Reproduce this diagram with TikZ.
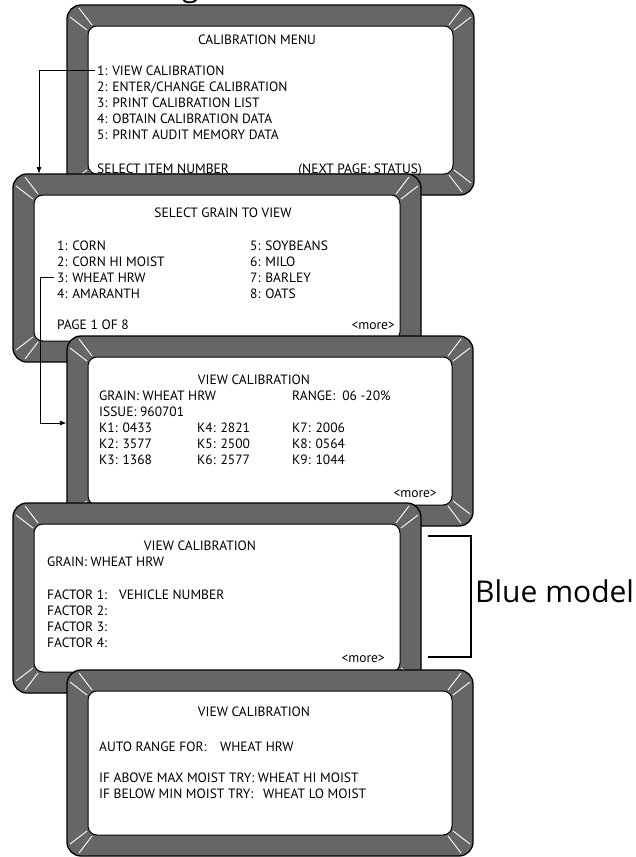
\documentclass[tikz,border=0pt]{standalone}
\usepackage{fontspec}
\setmainfont{PT Sans}
\newfontfamily\bluefont{Open Sans}
\usetikzlibrary{fit,arrows.meta}
\definecolor{framegray}{RGB}{102,102,102}
\tikzset{
  txt/.style={anchor=base west, inner sep=0pt, font=\fontsize{13.5}{16}\selectfont},
  ctxt/.style={txt, anchor=base},
  rtxt/.style={txt, anchor=base east},
  outerframe/.style={fill=framegray, draw=black, line width=1.3pt, rounded corners=14pt},
  innerframe/.style={fill=white, draw=black, line width=1pt, rounded corners=9pt},
  bevel/.style={draw=white, line width=0.9pt},
  arr/.style={draw=black, line width=1pt, -{Latex[length=7pt,width=5pt]}},
  bigtxt/.style={font=\bluefont\fontsize{30}{36}\selectfont, anchor=base west, inner sep=0pt},
  bracketline/.style={draw=black, line width=1.8pt}
}
\newcommand\screenframe[5]{%
  \draw[outerframe] (#2,#3) rectangle (#4,#5);
  \foreach \cx/\cy/\sx/\sy in {#2/#3/1/1,#4/#3/-1/1,#2/#5/1/-1,#4/#5/-1/-1}{
    \draw[bevel] ({\cx+3*(\sx)},{\cy+12*(\sy)}) -- ({\cx+20*(\sx)},{\cy+25*(\sy)});
    \draw[bevel] ({\cx+12*(\sx)},{\cy+3*(\sy)}) -- ({\cx+25*(\sx)},{\cy+20*(\sy)});
  }
  \draw[innerframe] ({#2+21},{#3+21}) rectangle ({#4-21},{#5-21});
  \coordinate (#1nw) at (#2,#3);
  \coordinate (#1se) at (#4,#5);
  \node[fit=(#1nw)(#1se), inner sep=0pt] (#1) {};
}
\begin{document}
\begin{tikzpicture}[x=1pt,y=-1pt]
\useasboundingbox (0,0) rectangle (636,857);
\fill[white] (0,0) rectangle (636,857);
\begin{scope}
  \clip (0,0) rectangle (636,857);
  \node[bigtxt] (cut) at (182,-4) {g};
\end{scope}

% frame 1
\screenframe{f1}{67}{5}{474}{195}
\node[ctxt] (m0) at (257,44) {CALIBRATION MENU};
\node[txt] (m1) at (97,75) {1: VIEW CALIBRATION};
\node[txt] (m2) at (97,91) {2: ENTER/CHANGE CALIBRATION};
\node[txt] (m3) at (97,107) {3: PRINT CALIBRATION LIST};
\node[txt] (m4) at (97,123) {4: OBTAIN CALIBRATION DATA};
\node[txt] (m5) at (97,139) {5: PRINT AUDIT MEMORY DATA};
\node[txt] (m6) at (97,173) {SELECT ITEM NUMBER};
\node[rtxt] (m7) at (422,173) {(NEXT PAGE: STATUS)};

% frame 2
\screenframe{f2}{13}{174}{421}{362}
\node[ctxt] (g0) at (223,217) {SELECT GRAIN TO VIEW};
\node[txt] (g1) at (57,250) {1: CORN};
\node[txt] (g2) at (57,266) {2: CORN HI MOIST};
\node[txt] (g3) at (57,282) {3: WHEAT HRW};
\node[txt] (g4) at (57,298) {4: AMARANTH};
\node[txt] (g5) at (250,250) {5: SOYBEANS};
\node[txt] (g6) at (250,266) {6: MILO};
\node[txt] (g7) at (250,282) {7: BARLEY};
\node[txt] (g8) at (250,298) {8: OATS};
\node[txt] (g9) at (57,329) {PAGE 1 OF 8};
\node[rtxt] (g10) at (395,329) {<more>};

% frame 3
\screenframe{f3}{67}{336}{473}{526}
\node[ctxt] (v0) at (254,384) {VIEW CALIBRATION};
\node[txt] (v1) at (99,400) {GRAIN: WHEAT HRW};
\node[txt] (v2) at (292,400) {RANGE:\hspace{7pt}06 -20\%};
\node[txt] (v3) at (99,416) {ISSUE: 960701};
\node[txt] (v4) at (99,432) {K1: 0433};
\node[txt] (v5) at (99,448) {K2: 3577};
\node[txt] (v6) at (99,464) {K3: 1368};
\node[txt] (v7) at (197,432) {K4: 2821};
\node[txt] (v8) at (197,448) {K5: 2500};
\node[txt] (v9) at (197,464) {K6: 2577};
\node[txt] (v10) at (292,432) {K7: 2006};
\node[txt] (v11) at (292,448) {K8: 0564};
\node[txt] (v12) at (292,464) {K9: 1044};
\node[rtxt] (v13) at (437,497) {<more>};

% frame 4
\screenframe{f4}{13}{503}{421}{693}
\node[ctxt] (b0) at (200,550) {VIEW CALIBRATION};
\node[txt] (b1) at (47,566) {GRAIN: WHEAT HRW};
\node[txt] (b2) at (47,599) {\makebox[72pt][l]{FACTOR 1:}VEHICLE NUMBER};
\node[txt] (b3) at (47,615) {FACTOR 2:};
\node[txt] (b4) at (47,631) {FACTOR 3:};
\node[txt] (b5) at (47,647) {FACTOR 4:};
\node[rtxt] (b6) at (385,662) {<more>};

% frame 5
\screenframe{f5}{67}{670}{473}{856}
\node[ctxt] (a0) at (254,716) {VIEW CALIBRATION};
\node[txt] (a1) at (99,751) {\makebox[121pt][l]{AUTO RANGE FOR:}WHEAT HRW};
\node[txt] (a2) at (99,782) {IF ABOVE MAX MOIST TRY: WHEAT HI MOIST};
\node[txt] (a3) at (99,798) {\makebox[164pt][l]{IF BELOW MIN MOIST TRY:}WHEAT LO MOIST};

% connectors
\coordinate (k1) at (39,174);
\draw[arr] ([xshift=-2pt]m1.west) -| (k1);
\coordinate (k2) at (40,423);
\draw[arr] ([xshift=-3pt]g3.west) -| (k2) -- (f3.west |- k2);

% bracket
\coordinate (bt) at (428,536);
\coordinate (bb) at (428,657);
\draw[bracketline] (bt) -- (471,536) -- (471,657) -- (bb);
\node[bigtxt] (blue) at (475,602) {Blue model};
\end{tikzpicture}
\end{document}
